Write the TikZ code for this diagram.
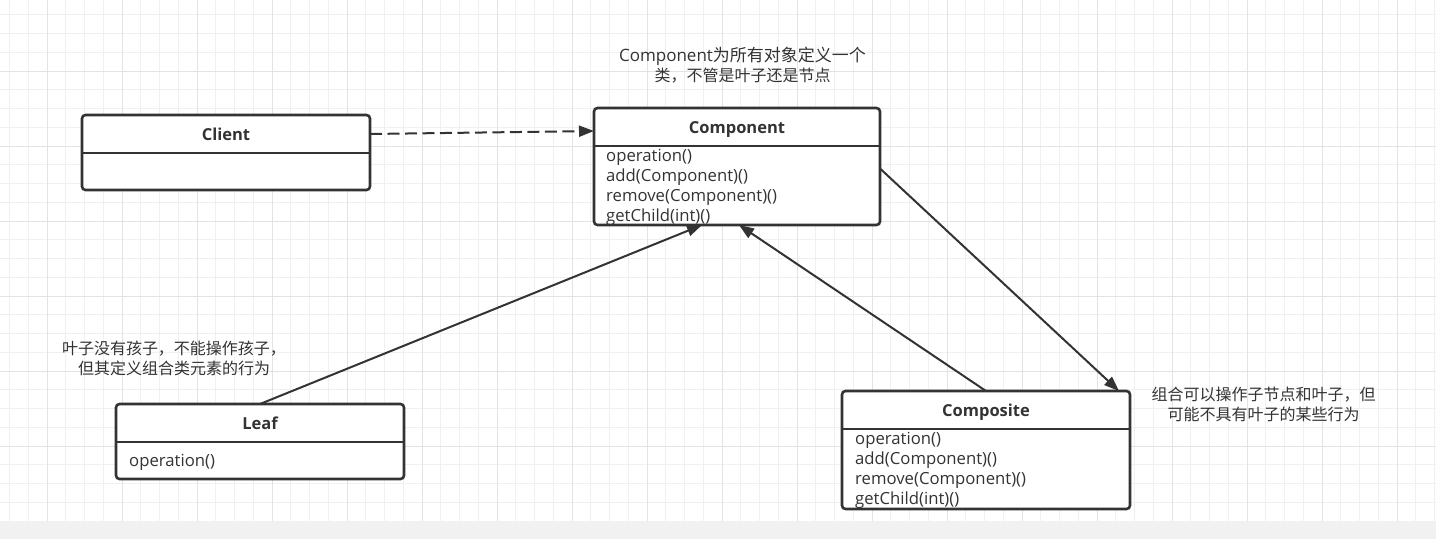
\documentclass[tikz,border=0pt]{standalone}
\usepackage{fontspec}
\setmainfont{Open Sans}
\newfontfamily\cjk{Noto Sans CJK SC}
\usetikzlibrary{arrows.meta,calc}
\definecolor{ink}{HTML}{333333}
\definecolor{gridminor}{HTML}{F0F0F0}
\definecolor{gridmajor}{HTML}{E3E3E3}
\definecolor{band}{HTML}{F1F1F1}
\begin{document}
\begin{tikzpicture}[x=1pt,y=-1pt,
  umlbox/.style={draw=ink, line width=2.6pt, rounded corners=3.5pt, fill=white, inner sep=0pt, outer sep=0pt, anchor=north west, minimum width=288pt},
  divider/.style={draw=ink, line width=2.4pt},
  title/.style={font=\fontsize{16.5}{20}\selectfont\bfseries, text=ink, anchor=base, inner sep=0pt},
  member/.style={font=\fontsize{16.7}{20}\selectfont, text=ink, anchor=base west, inner sep=0pt},
  note/.style={font=\cjk\fontsize{16}{20}\selectfont, text=ink, anchor=base, inner sep=0pt},
  conn/.style={draw=ink, line width=2pt, -{Triangle[length=15pt,width=11pt]}},
  dep/.style={conn, dash pattern=on 12pt off 5.5pt},
]
\useasboundingbox (0,0) rectangle (1436,539);
\fill[white] (0,0) rectangle (1436,521);
% grid
\foreach \i in {-2,...,74} {
  \draw[gridminor, line width=1pt] ({47+18.75*\i},0) -- ({47+18.75*\i},521);
}
\foreach \j in {-3,...,24} {
  \draw[gridminor, line width=1pt] (0,{71+18.75*\j}) -- (1436,{71+18.75*\j});
}
\foreach \i in {0,...,18} {
  \draw[gridmajor, line width=1pt] ({47+75*\i},0) -- ({47+75*\i},521);
}
\foreach \j in {0,...,5} {
  \draw[gridmajor, line width=1pt] (0,{71+75*\j}) -- (1436,{71+75*\j});
}
\fill[band] (0,521) rectangle (1436,539);

% Client
\node[umlbox, minimum height=75pt] (client) at (82,115) {};
\draw[divider] ([yshift=-38pt]client.north west) -- ([yshift=-38pt]client.north east);
\node[title] (clientT) at ([yshift=-25pt]client.north) {Client};

% Component
\node[umlbox, minimum width=286pt, minimum height=117pt] (comp) at (594,108) {};
\draw[divider] ([yshift=-38pt]comp.north west) -- ([yshift=-38pt]comp.north east);
\node[title] (compT) at ([yshift=-25pt]comp.north) {Component};
\node[member] (compM1) at (606,161) {operation()};
\node[member] (compM2) at (606,181) {add(Component)()};
\node[member] (compM3) at (606,201) {remove(Component)()};
\node[member] (compM4) at (606,221) {getChild(int)()};

% Leaf
\node[umlbox, minimum height=75pt] (leaf) at (116,404) {};
\draw[divider] ([yshift=-38pt]leaf.north west) -- ([yshift=-38pt]leaf.north east);
\node[title] (leafT) at ([yshift=-25pt]leaf.north) {Leaf};
\node[member] (leafM1) at (129,466.5) {operation()};

% Composite
\node[umlbox, minimum height=118pt] (compo) at (842,391) {};
\draw[divider] ([yshift=-38pt]compo.north west) -- ([yshift=-38pt]compo.north east);
\node[title] (compoT) at ([yshift=-25pt]compo.north) {Composite};
\node[member] (compoM1) at (855,444) {operation()};
\node[member] (compoM2) at (855,464) {add(Component)()};
\node[member] (compoM3) at (855,484) {remove(Component)()};
\node[member] (compoM4) at (855,504) {getChild(int)()};

% notes
\node[note] (n1a) at (742.5,61) {\fontsize{17}{20}\fontspec{Open Sans}Component\cjk 为所有对象定义一个};
\node[note] (n1b) at (742.5,81) {类，不管是叶子还是节点};
\node[note] (n2a) at (174,354) {叶子没有孩子，不能操作孩子，};
\node[note] (n2b) at (174,374) {但其定义组合类元素的行为};
\node[note] (n3a) at (1263.5,400) {组合可以操作子节点和叶子，但};
\node[note] (n3b) at (1263.5,420) {可能不具有叶子的某些行为};

% connectors
\draw[dep] ([yshift=-19pt]client.north east) -- ([yshift=-23pt]comp.north west);
\draw[conn] (leaf.north) -- ([xshift=108pt]comp.south west);
\draw[conn] (compo.north) -- ([xshift=145pt]comp.south west);
\draw[conn] ([yshift=-2pt]comp.east) -- ([xshift=-11pt]compo.north east);
\end{tikzpicture}
\end{document}
